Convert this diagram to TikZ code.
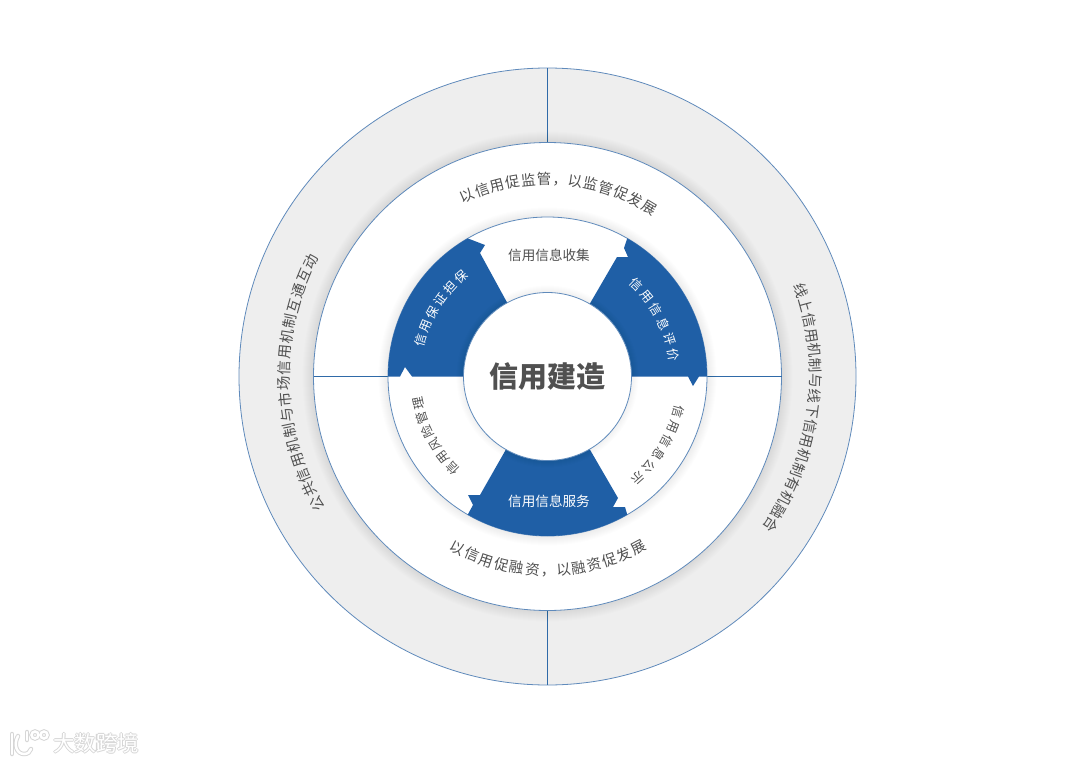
\documentclass[tikz,border=0pt]{standalone}
\usepackage{fontspec}
\usepackage{xcolor}
\usetikzlibrary{decorations.text}
\newfontfamily\cjkfont{Noto Sans CJK SC}
\definecolor{ringgray}{HTML}{EEEEEE}
\definecolor{ringblue}{HTML}{1F5FA6}
\definecolor{edgeblue}{HTML}{5F8ABB}
\definecolor{divblue}{HTML}{2F6AA8}
\definecolor{labelgray}{HTML}{505050}
\tikzset{
    ringline/.style={draw=edgeblue,line width=0.8pt},
    divline/.style={draw=divblue,line width=1pt},
    softshadow/.style={fill=black,fill opacity=0.006,draw=none},
    inlabel/.style={font=\cjkfont\fontsize{13.6}{14}\selectfont},
    markstroke/.style={line width=#1,line cap=round},
}
% text on an arc: angle from, angle to, radius, size, colour, text
\newcommand{\arclabel}[6]{
    \path[decorate,decoration={text along path,text align=fit to path,
        text color=#5,text={|\cjkfont\fontsize{#4}{#4}\selectfont|#6}}]
        (mid) ++(#1:#3) arc[start angle=#1,end angle=#2,radius=#3];
}
\begin{document}
\begin{tikzpicture}[x=1pt,y=1pt]
    \useasboundingbox (0,0) rectangle (1080,-763);
    \coordinate (mid) at (547.5,-376.5);
    % outer ring
    \fill[ringgray,ringline] (mid) circle (308.5);
    \draw[divline] (mid) ++(90:308.5) -- ++(0,-75);
    \draw[divline] (mid) ++(-90:308.5) -- ++(0,75);
    \foreach \r in {0,1,...,11}{
        \fill[softshadow] (mid) circle (234+\r);
    }
    \fill[white,ringline] (mid) circle (234);
    \draw[divline] (mid) ++(-234,0) -- ++(75,0);
    \draw[divline] (mid) ++(234,0) -- ++(-75,0);
    % inner ring
    \foreach \r in {0,1,...,9}{
        \fill[softshadow] (mid) circle (160+\r);
    }
    \fill[white,ringline] (mid) circle (159.5);
    \fill[ringblue] (mid) ++(60:159.5) arc[start angle=60,end angle=0,radius=159.5]
        -- (699,-376.5) -- (693,-386) -- (688,-376.5) -- (mid)
        -- (617,-257) -- (628,-257) -- (624,-248) -- cycle;
    \fill[ringblue] (mid) ++(120:159.5) arc[start angle=120,end angle=180,radius=159.5]
        -- (400,-376.5) -- (405,-367) -- (412,-376.5) -- (mid)
        -- (480,-253) -- (485,-245) -- cycle;
    \fill[ringblue] (mid) ++(240:159.5) arc[start angle=240,end angle=300,radius=159.5]
        -- (625,-507) -- (613,-507) -- (618,-498) -- (mid)
        -- (480,-495) -- (468,-495) -- (473,-505) -- cycle;
    % centre
    \foreach \r in {0,1,...,7}{
        \fill[softshadow] (mid) circle (84+\r);
    }
    \fill[white,ringline] (mid) circle (84);
    \node (core) at (mid) {\cjkfont\bfseries\fontsize{29}{29}\selectfont\textcolor{labelgray}{信用建造}};
    % labels
    \node[inlabel,text=labelgray] (collect) at (549,-255) {信用信息收集};
    \node[inlabel,text=white] (service) at (549,-501) {信用信息服务};
    \arclabel{167}{128}{127}{12.5}{white}{信用保证担保}
    \arclabel{49}{7}{123}{12.5}{white}{信用信息评价}
    \arclabel{-12.5}{-51}{131}{12.5}{labelgray}{信用信息公示}
    \arclabel{-133}{-171}{127}{12.5}{labelgray}{信用风险管理}
    \arclabel{116.1}{56.7}{192}{14.5}{labelgray}{以信用促监管，以监管促发展}
    \arclabel{-119.7}{-60}{199}{14.5}{labelgray}{以信用促融资，以融资促发展}
    \arclabel{210.5}{152.6}{258}{14.5}{labelgray}{公共信用机制与市场信用机制互通互动}
    \arclabel{20.2}{-35.1}{262.5}{14.5}{labelgray}{线上信用机制与线下信用机制有机融合}
    % watermark
    \foreach \dx/\dy in {-1/0,1/0,0/1,0/-1}{
        \node[text=black!16] at (96+\dx,-743+\dy) {\cjkfont\fontsize{21.5}{21.5}\selectfont 大数跨境};
    }
    \node[text=white] (mark) at (96,-743) {\cjkfont\fontsize{21.5}{21.5}\selectfont 大数跨境};
    \foreach \c/\w in {black!16/4.5pt,white/2.5pt}{
        \draw[\c,markstroke=\w] (12,-734) -- (12,-754);
        \draw[\c,markstroke=\w] (18,-736) .. controls (13,-745) and (17,-754) .. (24,-754) .. controls (28,-754) and (30,-752) .. (31,-749);
        \draw[\c,markstroke=\w] (27,-732) -- (27,-740);
        \draw[\c,markstroke=\w] (35,-735) circle (3.5);
        \draw[\c,markstroke=\w] (44,-735) circle (3.5);
    }
\end{tikzpicture}
\end{document}
